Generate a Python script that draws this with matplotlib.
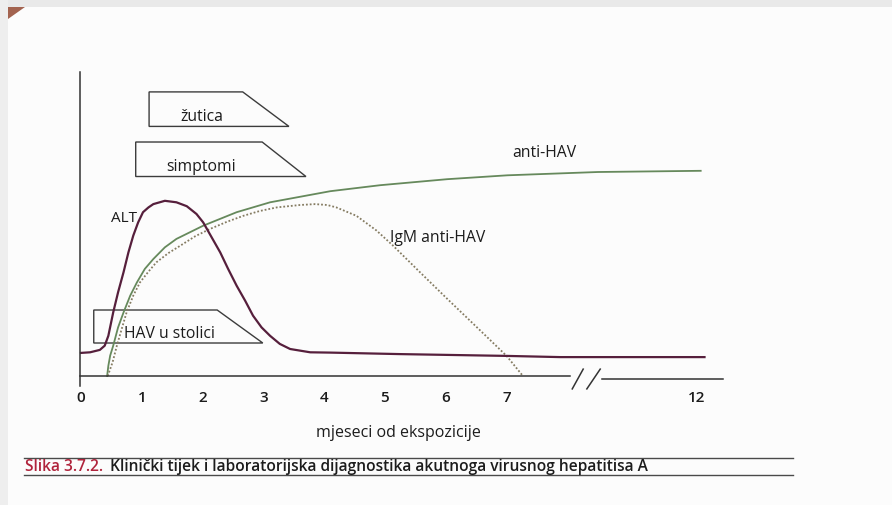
import numpy as np
import matplotlib.pyplot as plt
from matplotlib.patches import Polygon, Rectangle
from matplotlib.lines import Line2D

plt.rcParams['font.family'] = ['Open Sans', 'DejaVu Sans']

# months after exposure (real months, axis is broken between 7 and 12)
alt_months = [0.0, 0.15, 0.31, 0.39, 0.45, 0.53, 0.61, 0.70, 0.78, 0.86, 0.94, 1.02, 1.11, 1.19,
              1.38, 1.57, 1.74, 1.90, 2.01, 2.15, 2.29, 2.42, 2.56, 2.70, 2.83, 2.97, 3.11,
              3.27, 3.44, 3.77, 4.10, 5.25, 7.0, 8.41, 12.2]
alt_level = [7.7, 7.9, 8.7, 10.1, 13.4, 21.2, 27.9, 34.6, 41.2, 46.8, 51.2, 54.6, 56.2, 57.3,
             58.4, 57.9, 56.6, 54.0, 51.2, 46.2, 41.2, 35.7, 30.1, 25.1, 20.1, 16.2, 13.4,
             10.7, 9.0, 7.9, 7.8, 7.3, 6.7, 6.3, 6.3]

anti_months = [0.43, 0.45, 0.48, 0.53, 0.61, 0.70, 0.81, 0.92, 1.05, 1.19, 1.38, 1.57, 1.79,
               2.01, 2.56, 3.11, 4.10, 4.92, 6.02, 7.02, 9.4, 12.1]
anti_level = [0, 3.4, 6.8, 10.1, 16.2, 21.2, 26.8, 31.2, 35.7, 39.0, 42.9, 45.7, 47.9,
              50.1, 54.6, 57.9, 61.6, 63.6, 65.6, 66.9, 68.0, 68.4]

igm_months = [0.44, 0.52, 0.59, 0.67, 0.75, 0.86, 0.97, 1.11, 1.24, 1.44, 1.63, 1.88, 2.12,
              2.40, 2.67, 2.94, 3.22, 3.60, 3.85, 4.05, 4.20, 4.53, 4.86, 5.13, 5.58, 6.02,
              6.56, 7.0, 7.43]
igm_level = [0, 4.6, 10.1, 15.7, 21.2, 26.8, 31.2, 34.8, 37.9, 41.0, 43.4, 46.6, 49.0,
             51.4, 53.4, 55.0, 56.2, 57.0, 57.3, 57.0, 56.2, 53.4, 48.5, 43.5, 34.5, 25.8,
             15.3, 6.7, 0]

# clinical phases: start, end of plateau, end of taper (months)
phase_names = ['žutica', 'simptomi', 'HAV u stolici']
phase_start = [1.12, 0.90, 0.21]
phase_flat_end = [2.66, 2.98, 2.24]
phase_end = [3.42, 3.70, 2.99]

month_ticks = [0, 1, 2, 3, 4, 5, 6, 7, 12]

# layout
phase_rows = [(94.7, 83.2), (78.0, 66.5), (22.0, 11.0)]
phase_text = [(1.99, 86.7), (1.97, 70.0), (1.46, 14.5)]
SQUEEZE = 0.626   # months after 7 are drawn compressed
INK = '#1c1c1c'


def xpos(m):
    m = np.asarray(m, dtype=float)
    return np.where(m <= 7, m, 7 + (m - 7) * SQUEEZE)


fig = plt.figure(figsize=(8.92, 5.06), dpi=100, facecolor='#fcfcfc')
ax = fig.add_axes([0, 0, 1, 1])
ax.set_facecolor('none')
ax.set_xlim(-1.332, 13.339)
ax.set_ylim(-43, 125.67)

# axes
for s in ['top', 'right']:
    ax.spines[s].set_visible(False)
ax.spines['left'].set_position(('data', -0.02))
ax.spines['left'].set_bounds(-3.3, 101.3)
ax.spines['bottom'].set_position(('data', 0))
ax.spines['bottom'].set_bounds(-0.02, 8.04)
for s in ['left', 'bottom']:
    ax.spines[s].set_color('#333333')
    ax.spines[s].set_linewidth(1.1)
ax.set_yticks([])
ax.set_xticks(xpos(month_ticks), [str(m) for m in month_ticks])
ax.tick_params(axis='x', length=0, pad=10, labelsize=11, labelcolor=INK)
for lab in ax.get_xticklabels():
    lab.set_fontweight('semibold')

# axis break and continuation
ax.plot([8.08, 8.26], [-4.3, 2.3], color='#333333', lw=1.1)
ax.plot([8.32, 8.54], [-4.3, 2.3], color='#333333', lw=1.1)
ax.plot([8.57, 10.56], [-1.0, -1.0], color='#333333', lw=1.1)

# curves
ax.plot(xpos(anti_months), anti_level, color='#66895c', lw=1.3)
ax.plot(xpos(igm_months), igm_level, color='#857c62', lw=1.3, linestyle=(0, (1, 1.1)))
ax.plot(xpos(alt_months), alt_level, color='#561f3c', lw=1.6)

# phase boxes
for name, s, fe, e, (top, bot), (tx, ty) in zip(phase_names, phase_start, phase_flat_end,
                                               phase_end, phase_rows, phase_text):
    ax.add_patch(Polygon([(s, top), (fe, top), (e, bot), (s, bot)], closed=True,
                         fill=False, edgecolor='#3c3c3c', lw=1.0))
    ax.text(tx, ty, name, ha='center', va='center', fontsize=11.3, color=INK)

ax.text(0.71, 52.7, 'ALT', ha='center', va='center', fontsize=11, color=INK)
ax.text(7.62, 74.7, 'anti-HAV', ha='center', va='center', fontsize=11.3, color=INK)
ax.text(5.86, 46.3, 'IgM anti-HAV', ha='center', va='center', fontsize=11.3, color=INK)
ax.text(5.22, -18.5, 'mjeseci od ekspozicije', ha='center', va='center', fontsize=11.5,
        color=INK)

# caption
fig.add_artist(Line2D([24 / 892, 793 / 892], [1 - 459 / 506] * 2, color='#4a4a4a', lw=1.0))
fig.add_artist(Line2D([24 / 892, 793 / 892], [1 - 476 / 506] * 2, color='#4a4a4a', lw=1.0))
cap = fig.text(25 / 892, 1 - 467.5 / 506, 'Slika 3.7.2.', color='#b0243c', fontsize=11.2,
               fontweight='semibold', va='center', ha='left')
fig.canvas.draw()
bb = cap.get_window_extent()
fig.text((bb.x1 + 7) / 892, 1 - 467.5 / 506,
         'Klinički tijek i laboratorijska dijagnostika akutnoga virusnog hepatitisa A',
         color=INK, fontsize=11.2, fontweight='semibold', va='center', ha='left')

# scan edges
fig.add_artist(Rectangle((0, 1 - 8 / 506), 1, 8 / 506, transform=fig.transFigure,
                         color='#e9e9e9', lw=0))
fig.add_artist(Rectangle((0, 0), 8 / 892, 1, transform=fig.transFigure,
                         color='#eeeeee', lw=0))
fig.add_artist(Polygon([(8 / 892, 1 - 8 / 506), (25 / 892, 1 - 8 / 506), (8 / 892, 1 - 20 / 506)],
                       closed=True, transform=fig.transFigure, color='#a3634f', lw=0))

fig.savefig('out.png', dpi=100, facecolor=fig.get_facecolor())
